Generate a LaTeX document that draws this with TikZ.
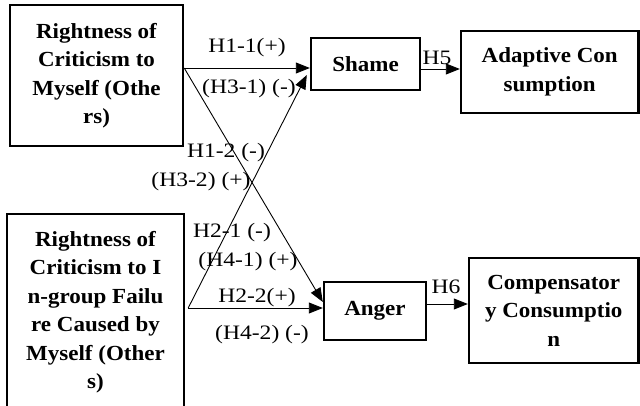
\documentclass[tikz,border=0pt]{standalone}
\usepackage{fontspec}
\setmainfont[FakeStretch=1.15]{Liberation Serif}
\newfontfamily\boxfont[FakeStretch=1.07]{Liberation Serif}
\usetikzlibrary{arrows.meta}
\begin{document}
\begin{tikzpicture}[x=1pt,y=-1pt,
  box/.style={draw, line width=2.4pt, align=center, inner sep=0pt,
    font=\boxfont\fontsize{21.5}{28.5}\selectfont\bfseries},
  arr/.style={line width=0.9pt, -{Triangle[length=14pt,width=11pt]}},
  lab/.style={inner sep=0pt, font=\fontsize{20.5}{24}\selectfont}]
\useasboundingbox (0,0) rectangle (640,406);
\clip (0,0) rectangle (640,406);
\fill[white] (0,0) rectangle (640,406);
\node[box, minimum width=173pt, minimum height=141pt] (A) at (96.5,75.5)
  {Rightness of\\Criticism to\\Myself (Othe\\rs)};
\node[box, minimum width=177pt, minimum height=196pt] (B) at (95.5,312)
  {Rightness of\\Criticism to I\\n-group Failu\\re Caused by\\Myself (Other\\s)};
\node[box, minimum width=109pt, minimum height=52pt] (S) at (365.5,64) {Shame};
\node[box, minimum width=102pt, minimum height=58pt] (G) at (375,311) {Anger};
\node[box, minimum width=177.5pt, minimum height=82pt] (D) at (549.75,72)
  {Adaptive Con\\sumption};
\node[box, minimum width=169.5pt, minimum height=105pt] (C) at (553.75,310.5)
  {Compensator\\y Consumptio\\n};
% connectors
\draw[arr] ([yshift=7.5pt]A.east) -- ([yshift=-4pt]S.west);
\draw[arr] ([yshift=7.5pt]A.east) -- ([yshift=9pt]G.west);
\draw[arr] ([xshift=3pt,yshift=4pt]B.east) -- ([yshift=3pt]G.west);
\draw[arr] ([xshift=3pt,yshift=4pt]B.east) -- ([xshift=-3pt,yshift=-11pt]S.west);
\draw[arr] ([yshift=-5pt]S.east) -- ([yshift=3pt]D.west);
\draw[arr] ([yshift=7pt]G.east) -- ([yshift=6.5pt]C.west);
% labels
\node[lab] (l1) at (247,48) {H1-1(+)};
\node[lab] (l2) at (249,89) {(H3-1) (-)};
\node[lab] (l3) at (226,153) {H1-2 (-)};
\node[lab] (l4) at (201,182) {(H3-2) (+)};
\node[lab] (l5) at (232,233) {H2-1 (-)};
\node[lab] (l6) at (248,262) {(H4-1) (+)};
\node[lab] (l7) at (257,298) {H2-2(+)};
\node[lab] (l8) at (262,335) {(H4-2) (-)};
\node[lab] (l9) at (437,58) {H5};
\node[lab] (l10) at (446,287) {H6};
\end{tikzpicture}
\end{document}
